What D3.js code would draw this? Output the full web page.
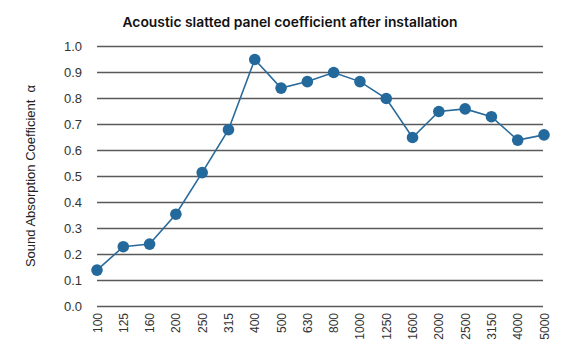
<!DOCTYPE html>
<html><head><meta charset="utf-8">
<script src="https://cdn.jsdelivr.net/npm/d3@7"></script>
<style>body{margin:0;background:#fff;} svg{display:block;}</style>
</head><body>
<script>
const categories = ["100","125","160","200","250","315","400","500","630","800","1000","1250","1600","2000","2500","3150","4000","5000"];
const values = [0.14,0.23,0.24,0.355,0.515,0.68,0.95,0.84,0.865,0.90,0.865,0.80,0.65,0.75,0.76,0.73,0.64,0.66];
const yTicks = [0,0.1,0.2,0.3,0.4,0.5,0.6,0.7,0.8,0.9,1.0];
const title = "Acoustic slatted panel coefficient after installation";
const yTitle = "Sound Absorption Coefficient  α";

const W = 570, H = 347;
const FONT = "'Liberation Sans', Arial, sans-serif";
const svg = d3.select("body").append("svg").attr("width", W).attr("height", H);
const x = d3.scalePoint().domain(categories).range([97, 544]);
const y = d3.scaleLinear().domain([0, 1]).range([306.5, 46.5]);

// gridlines
svg.append("g").selectAll("line").data(yTicks).join("line")
  .attr("x1", 97).attr("x2", 543)
  .attr("y1", d => y(d)).attr("y2", d => y(d))
  .attr("stroke", "#5a5a5a").attr("stroke-width", 1.6);

// y labels
const yAxis = d3.axisLeft(y).tickValues(yTicks).tickFormat(d3.format(".1f")).tickSize(0).tickPadding(0);
const gy = svg.append("g").attr("transform", "translate(82,0)").call(yAxis);
gy.select(".domain").remove();
gy.selectAll("text").attr("font-family", FONT).attr("font-size", 13).attr("fill", "#333");

// x labels
const xAxis = d3.axisBottom(x).tickSize(0).tickPadding(0);
const gx = svg.append("g").attr("transform", "translate(0,313)").call(xAxis);
gx.select(".domain").remove();
gx.selectAll("text")
  .attr("font-family", FONT).attr("font-size", 12).attr("fill", "#333")
  .attr("text-anchor", "end").attr("dy", null).attr("y", 0)
  .attr("transform", "rotate(-90)").attr("x", 0)
  .attr("dominant-baseline", "central");

// line
svg.append("path").datum(values)
  .attr("fill", "none").attr("stroke", "#2a6a9a").attr("stroke-width", 1.6)
  .attr("d", d3.line().x((d, i) => x(categories[i])).y(d => y(d)));

svg.append("g").selectAll("circle").data(values).join("circle")
  .attr("cx", (d, i) => x(categories[i])).attr("cy", d => y(d)).attr("r", 5.8)
  .attr("fill", "#24699c");

// title
svg.append("text").attr("x", 290).attr("y", 27).attr("text-anchor", "middle")
  .attr("font-family", "Inter, 'Noto Sans', sans-serif").attr("font-weight", 600).attr("font-size", 13.5)
  .attr("textLength", 335).attr("lengthAdjust", "spacingAndGlyphs")
  .attr("fill", "#111").text(title);

// y title
svg.append("text").attr("transform", "translate(35,176) rotate(-90)").attr("text-anchor", "middle")
  .attr("font-family", FONT).attr("font-size", 13).attr("fill", "#222")
  .style("white-space", "pre")
  .text(yTitle);
</script>
</body></html>
